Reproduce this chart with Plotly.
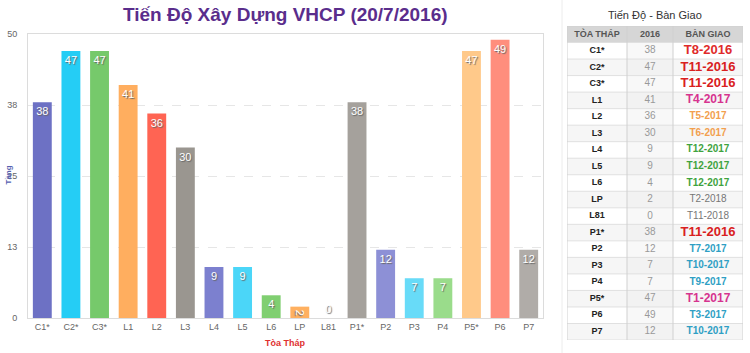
import plotly.graph_objects as go

towers = ["C1*", "C2*", "C3*", "L1", "L2", "L3", "L4", "L5", "L6", "LP", "L81",
          "P1*", "P2", "P3", "P4", "P5*", "P6", "P7"]
floors_2016 = [38, 47, 47, 41, 36, 30, 9, 9, 4, 2, 0, 38, 12, 7, 7, 47, 49, 12]
handover = ["T8-2016", "T11-2016", "T11-2016", "T4-2017", "T5-2017", "T6-2017",
            "T12-2017", "T12-2017", "T12-2017", "T2-2018", "T11-2018", "T11-2016",
            "T7-2017", "T10-2017", "T9-2017", "T1-2017", "T3-2017", "T10-2017"]
bar_colors = ["#6d71c4", "#25cdf5", "#76c96b", "#ffae5f", "#ff6453", "#9a9690",
              "#7c80cf", "#4bd6f8", "#80cf71", "#ffb060", "#a8a4a0", "#a5a19c",
              "#8d90d6", "#68dbf8", "#9adc8b", "#ffc98a", "#ff8e7d", "#b0aca8"]
handover_colors = ["#e02a2a", "#d92020", "#d92020", "#d6348f", "#f2a04e", "#f2a04e",
                   "#3fa33f", "#3fa33f", "#3fa33f", "#777777", "#777777", "#d92020",
                   "#2f9fc4", "#2f9fc4", "#2f9fc4", "#d6348f", "#2f9fc4", "#2f9fc4"]
handover_sizes = [13, 13, 13, 12, 10, 10, 10, 10, 10, 10, 10, 13, 10, 10, 10, 12, 10, 10]
table_headers = ["TÒA THÁP", "2016", "BÀN GIAO"]
col_widths = [60, 46, 70]
ytick_vals = [0, 12.5, 25, 37.5, 50]
ytick_text = ["0", "13", "25", "38", "50"]

W, H = 750, 353
FONT = "Liberation Sans, Arial, sans-serif"

fig = go.Figure()
fig.add_trace(go.Bar(
    x=towers, y=floors_2016,
    marker=dict(color=bar_colors, line=dict(width=0)),
    text=[str(v) for v in floors_2016],
    textposition=["outside" if v == 0 else "inside" for v in floors_2016],
    insidetextanchor="end",
    textfont=dict(color="white", size=11, family=FONT, shadow="1px 1px 1px #666"),
    constraintext="none",
    cliponaxis=False,
    showlegend=False,
    xaxis="x", yaxis="y",
))

# ---- table drawn on its own axes (x2: column units, y2: row units) ----
n = len(towers)
col_edges = [0]
for w in col_widths:
    col_edges.append(col_edges[-1] + w)
col_centers = [(col_edges[i] + col_edges[i + 1]) / 2 for i in range(3)]
row_centers = [i + 0.5 for i in range(n)]

shapes = []
shapes.append(dict(type="rect", xref="x2", yref="y2", x0=0, x1=col_edges[-1], y0=-1, y1=0,
                   fillcolor="#d6d6d6", line=dict(width=0), layer="below"))
for i in range(n):
    fill = "white" if i % 2 == 0 else "#f6f6f6"
    shapes.append(dict(type="rect", xref="x2", yref="y2", x0=0, x1=col_edges[-1], y0=i, y1=i + 1,
                       fillcolor=fill, line=dict(width=0), layer="below"))
    shapes.append(dict(type="rect", xref="x2", yref="y2", x0=col_edges[1], x1=col_edges[2],
                       y0=i, y1=i + 1, fillcolor="#f8f8f8" if i % 2 == 0 else "#f2f2f2",
                       line=dict(width=0), layer="below"))
for i in range(n + 1):
    shapes.append(dict(type="line", xref="x2", yref="y2", x0=0, x1=col_edges[-1], y0=i, y1=i,
                       line=dict(color="#e0e0e0", width=1)))
for xe in col_edges:
    shapes.append(dict(type="line", xref="x2", yref="y2", x0=xe, x1=xe, y0=-1, y1=n,
                       line=dict(color="#d0d0d0", width=1)))
shapes.append(dict(type="line", xref="x2", yref="y2", x0=0, x1=col_edges[-1], y0=-1, y1=-1,
                   line=dict(color="#d0d0d0", width=1)))
shapes.append(dict(type="line", xref="paper", yref="paper", x0=562 / W, x1=562 / W, y0=0, y1=1,
                   line=dict(color="#ececec", width=1)))

fig.add_trace(go.Scatter(
    x=col_centers, y=[-0.5] * 3, mode="text",
    text=["<b>%s</b>" % h for h in table_headers],
    textfont=dict(size=9, color="#555555", family=FONT),
    xaxis="x2", yaxis="y2", showlegend=False, hoverinfo="skip",
))
fig.add_trace(go.Scatter(
    x=[col_centers[0]] * n, y=row_centers, mode="text",
    text=["<b>%s</b>" % t for t in towers],
    textfont=dict(size=9, color="#222222", family=FONT),
    xaxis="x2", yaxis="y2", showlegend=False, hoverinfo="skip",
))
fig.add_trace(go.Scatter(
    x=[col_centers[1]] * n, y=row_centers, mode="text",
    text=[str(v) for v in floors_2016],
    textfont=dict(size=10, color="#999999", family=FONT),
    xaxis="x2", yaxis="y2", showlegend=False, hoverinfo="skip",
))
fig.add_trace(go.Scatter(
    x=[col_centers[2]] * n, y=row_centers, mode="text",
    text=[h if c == "#777777" else "<b>%s</b>" % h for h, c in zip(handover, handover_colors)],
    textfont=dict(size=handover_sizes, color=handover_colors, family=FONT),
    xaxis="x2", yaxis="y2", showlegend=False, hoverinfo="skip",
))

fig.update_layout(
    width=W, height=H,
    margin=dict(l=0, r=0, t=0, b=0),
    paper_bgcolor="white", plot_bgcolor="white",
    bargap=0.34,
    xaxis=dict(domain=[28 / W, 543 / W], showgrid=False, showline=True, mirror=True,
               linecolor="#dcdcdc", linewidth=1, ticks="", automargin=False,
               tickfont=dict(size=9, color="#666666", family=FONT),
               title=None),
    yaxis=dict(domain=[35 / H, 319 / H], range=[0, 50], tickvals=ytick_vals,
               ticktext=ytick_text, showgrid=True, gridcolor="#e6e6e6", griddash="dash",
               showline=True, mirror=True, linecolor="#dcdcdc", linewidth=1,
               zeroline=False, automargin=False, ticklabelstandoff=8,
               tickfont=dict(size=9, color="#666666", family=FONT)),
    xaxis2=dict(domain=[567 / W, 743 / W], range=[0, col_edges[-1]], visible=False,
                fixedrange=True),
    yaxis2=dict(domain=[13 / H, (H - 26) / H], range=[n, -1], visible=False,
                fixedrange=True, anchor="x2"),
    annotations=[
        dict(text="<b>Tiến Độ Xây Dựng VHCP (20/7/2016)</b>", xref="paper", yref="paper",
             x=285 / W, y=(H - 15) / H, xanchor="center", yanchor="middle", showarrow=False,
             font=dict(size=19, color="#5a2d8c", family=FONT)),
        dict(text="<b>Tòa Tháp</b>", xref="paper", yref="paper",
             x=285 / W, y=(H - 343) / H, xanchor="center", yanchor="middle", showarrow=False,
             font=dict(size=9, color="#e03030", family=FONT)),
        dict(text="<b>Tầng</b>", xref="paper", yref="paper", textangle=-90,
             x=1 / W, y=(H - 175) / H, xanchor="left", yanchor="middle", showarrow=False,
             font=dict(size=8, color="#5560b0", family=FONT)),
        dict(text="Tiến Độ - Bàn Giao", xref="paper", yref="paper",
             x=655 / W, y=(H - 15) / H, xanchor="center", yanchor="middle", showarrow=False,
             font=dict(size=11, color="#333333", family=FONT)),
    ],
    shapes=shapes,
)

fig.write_html("out.html")
